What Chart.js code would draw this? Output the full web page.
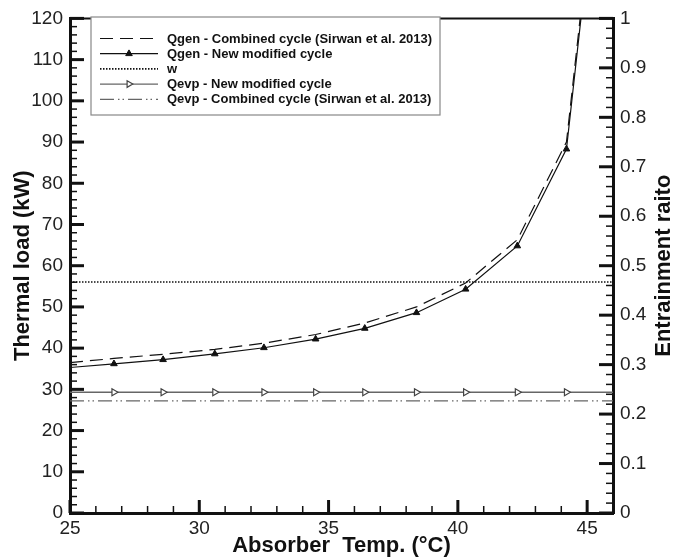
<!DOCTYPE html>
<html><head><meta charset="utf-8">
<script src="https://cdn.jsdelivr.net/npm/chart.js@4.4.1/dist/chart.umd.min.js"></script>
<style>html,body{margin:0;padding:0;background:#fff;}canvas{display:block;}</style>
</head><body>
<canvas id="c" width="673" height="558"></canvas>
<script>
// ---- data ----
const tempQgen     = [25, 26.7, 28.6, 30.6, 32.5, 34.5, 36.4, 38.4, 40.3, 42.3, 44.2, 46];
const qgenCombined = [36.5, 37.5, 38.5, 39.7, 41.2, 43.3, 46.1, 50.0, 55.8, 66.3, 90.0, 192];
const qgenNew      = [35.3, 36.2, 37.2, 38.6, 40.1, 42.2, 44.8, 48.6, 54.3, 64.8, 88.3, 190];
const tempFlat     = [25, 26.7, 28.6, 30.6, 32.5, 34.5, 36.4, 38.4, 40.3, 42.3, 44.2, 46];
const wRatio       = [0.467, 0.467, 0.467, 0.467, 0.467, 0.467, 0.467, 0.467, 0.467, 0.467, 0.467, 0.467];
const qevpNew      = [29.3, 29.3, 29.3, 29.3, 29.3, 29.3, 29.3, 29.3, 29.3, 29.3, 29.3, 29.3];
const qevpCombined = [27.2, 27.2, 27.2, 27.2, 27.2, 27.2, 27.2, 27.2, 27.2, 27.2, 27.2, 27.2];
const xTickLabels  = [25, 30, 35, 40, 45];
const yTickLabels  = [0, 10, 20, 30, 40, 50, 60, 70, 80, 90, 100, 110, 120];
const y2TickLabels = [0, 0.1, 0.2, 0.3, 0.4, 0.5, 0.6, 0.7, 0.8, 0.9, 1];
const seriesLabels = [
  'Qgen - Combined cycle (Sirwan et al. 2013)',
  'Qgen - New modified cycle',
  'w',
  'Qevp - New modified cycle',
  'Qevp - Combined cycle (Sirwan et al. 2013)'
];
const xTitle = 'Absorber  Temp. (\u00B0C)';
const yTitle = 'Thermal load (kW)';
const y2Title = 'Entrainment raito';

const FONT = '"Liberation Sans", Arial, Helvetica, sans-serif';
const pts = (xs, ys) => xs.map((x, i) => ({x: x, y: ys[i]}));
const innerMarker = r => ctx => {
  const n = ctx.dataset.data.length;
  return (ctx.dataIndex === 0 || ctx.dataIndex === n - 1) ? 0 : r;
};

function line(ctx, x1, y1, x2, y2) { ctx.beginPath(); ctx.moveTo(x1, y1); ctx.lineTo(x2, y2); ctx.stroke(); }

function drawMarker(ctx, ds, x, y) {
  if (!ds.pointStyle) return;
  const r = 3.8;
  ctx.save();
  ctx.translate(x, y);
  ctx.rotate((ds.pointRotation || 0) * Math.PI / 180);
  ctx.beginPath();
  const h = r * 1.5;
  ctx.moveTo(0, -r);
  ctx.lineTo(r * 0.866 * 1.0, r * 0.5);
  ctx.lineTo(-r * 0.866, r * 0.5);
  ctx.closePath();
  ctx.setLineDash([]);
  ctx.fillStyle = ds.pointBackgroundColor;
  ctx.strokeStyle = ds.pointBorderColor;
  ctx.lineWidth = ds.pointBorderWidth || 1;
  ctx.fill(); ctx.stroke();
  ctx.restore();
}

const decor = {
  id: 'decor',
  afterDraw(chart) {
    const ctx = chart.ctx, a = chart.chartArea;
    const sx = chart.scales.x, sy = chart.scales.y, sy2 = chart.scales.y2;
    ctx.save();
    ctx.strokeStyle = '#111';
    ctx.setLineDash([]);
    // top frame
    ctx.lineWidth = 2;
    line(ctx, a.left, a.top, a.right, a.top);
    // x ticks (inward)
    for (let v = sx.min; v <= sx.max + 1e-9; v += 1) {
      const p = sx.getPixelForValue(v);
      const major = xTickLabels.includes(v);
      ctx.lineWidth = major ? 3 : 1.5;
      line(ctx, p, a.bottom, p, a.bottom - (major ? 13 : 7));
    }
    // left y ticks
    for (let v = sy.min; v <= sy.max + 1e-9; v += 2) {
      const p = sy.getPixelForValue(v);
      const major = yTickLabels.includes(v);
      ctx.lineWidth = major ? 3 : 1.5;
      line(ctx, a.left, p, a.left + (major ? 14 : 7), p);
    }
    // right y ticks
    for (let i = 0; i <= 50; i++) {
      const v = i / 50;
      const p = sy2.getPixelForValue(v);
      const major = i % 5 === 0;
      ctx.lineWidth = major ? 3 : 1.5;
      line(ctx, a.right, p, a.right - (major ? 14 : 7), p);
    }
    // legend
    const bx = 91, by = 17, bw = 349, bh = 98;
    ctx.fillStyle = '#fff';
    ctx.fillRect(bx, by, bw, bh);
    ctx.strokeStyle = '#888';
    ctx.lineWidth = 1.2;
    ctx.strokeRect(bx, by, bw, bh);
    chart.data.datasets.forEach((ds, i) => {
      const ry = 38.5 + i * 15.2;
      ctx.save();
      ctx.strokeStyle = ds.borderColor;
      ctx.lineWidth = ds.borderWidth;
      ctx.setLineDash(ds.borderDash || []);
      line(ctx, 100, ry, 158, ry);
      ctx.restore();
      drawMarker(ctx, ds, 129, ry);
      ctx.fillStyle = '#111';
      ctx.font = 'bold 13px ' + FONT;
      ctx.textAlign = 'left';
      ctx.textBaseline = 'middle';
      ctx.fillText(ds.label, 167, ry + 0.5);
    });
    // right axis title (reads bottom to top)
    ctx.save();
    ctx.translate(664, (a.top + a.bottom) / 2);
    ctx.rotate(-Math.PI / 2);
    ctx.fillStyle = '#111';
    ctx.font = 'bold 22px ' + FONT;
    ctx.textAlign = 'center';
    ctx.textBaseline = 'middle';
    ctx.fillText(y2Title, 0, 0);
    ctx.restore();
    ctx.restore();
  }
};

const tickFont = {family: FONT, size: 19};
const titleFont = {family: FONT, size: 22, weight: 'bold', lineHeight: 1.1};

new Chart(document.getElementById('c'), {
  type: 'line',
  data: {
    datasets: [
      { label: seriesLabels[0], data: pts(tempQgen, qgenCombined), yAxisID: 'y',
        borderColor: '#111', borderWidth: 1.2, borderDash: [13, 7], pointRadius: 0, fill: false },
      { label: seriesLabels[1], data: pts(tempQgen, qgenNew), yAxisID: 'y',
        borderColor: '#111', borderWidth: 1.2, pointStyle: 'triangle', pointRadius: innerMarker(3.8),
        pointBackgroundColor: '#111', pointBorderColor: '#111', pointBorderWidth: 1, fill: false },
      { label: seriesLabels[2], data: pts(tempFlat, wRatio), yAxisID: 'y2',
        borderColor: '#111', borderWidth: 1.6, borderDash: [1.5, 1.5], pointRadius: 0, fill: false },
      { label: seriesLabels[3], data: pts(tempFlat, qevpNew), yAxisID: 'y',
        borderColor: '#666', borderWidth: 1.3, pointStyle: 'triangle', pointRotation: 90,
        pointRadius: innerMarker(4), pointBackgroundColor: '#fff', pointBorderColor: '#444',
        pointBorderWidth: 1.2, fill: false },
      { label: seriesLabels[4], data: pts(tempFlat, qevpCombined), yAxisID: 'y',
        borderColor: '#666', borderWidth: 1.2, borderDash: [14, 4, 1.5, 3, 1.5, 4], pointRadius: 0, fill: false }
    ]
  },
  options: {
    responsive: false,
    animation: false,
    events: [],
    layout: {padding: {top: 17, left: 0, right: 0, bottom: 0}},
    plugins: {legend: {display: false}, tooltip: {enabled: false}},
    scales: {
      x: {
        type: 'linear', position: 'bottom', min: 25, max: 46,
        afterFit(s) { s.height = 45; },
        grid: {display: false, drawTicks: false},
        border: {display: true, color: '#111', width: 3},
        ticks: {stepSize: 5, includeBounds: false, autoSkip: false, maxRotation: 0, padding: 4,
          color: '#222', font: tickFont,
          callback: v => xTickLabels.includes(v) ? String(v) : ''},
        title: {display: true, text: xTitle, color: '#111', font: titleFont, padding: {top: 0, bottom: 0}}
      },
      y: {
        type: 'linear', position: 'left', min: 0, max: 120,
        afterFit(s) { s.width = 70; },
        grid: {display: false, drawTicks: false},
        border: {display: true, color: '#111', width: 3},
        ticks: {stepSize: 10, autoSkip: false, padding: 7, color: '#222', font: tickFont,
          callback: v => yTickLabels.includes(v) ? String(v) : ''},
        title: {display: true, text: yTitle, color: '#111', font: titleFont, padding: {top: 11, bottom: 0}}
      },
      y2: {
        type: 'linear', position: 'right', min: 0, max: 1,
        afterFit(s) { s.width = 60; },
        grid: {display: false, drawTicks: false},
        border: {display: true, color: '#111', width: 3},
        ticks: {stepSize: 0.1, autoSkip: false, padding: 7, color: '#222', font: tickFont,
          callback: v => { const r = Math.round(v * 10) / 10; return y2TickLabels.includes(r) ? String(r) : ''; }}
      }
    }
  },
  plugins: [decor]
});
</script>
</body></html>
